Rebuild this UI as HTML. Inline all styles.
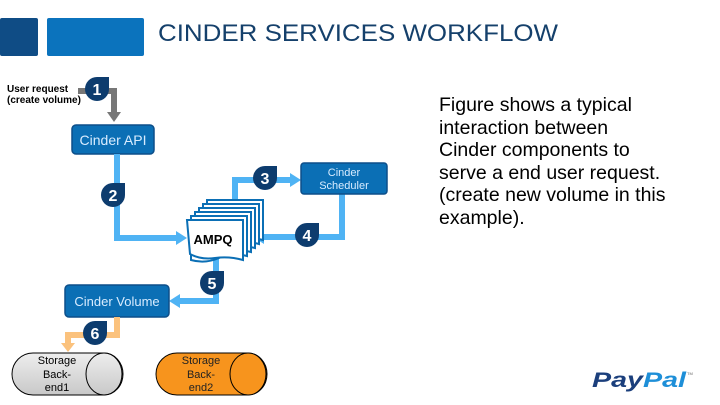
<!DOCTYPE html>
<html><head><meta charset="utf-8"><style>
html,body{margin:0;padding:0;background:#fff;width:720px;height:405px;overflow:hidden}
svg{display:block;font-family:"Liberation Sans",Arial,sans-serif}
</style></head><body>
<svg width="720" height="405" viewBox="0 0 720 405" xmlns="http://www.w3.org/2000/svg">
<defs>
<g id="b"><path d="M0,-12 L12,-12 L12,0 A12,12 0 1 1 0,-12 Z" fill="#0d3c6e"/></g>
</defs>
<rect x="0" y="18" width="38" height="38" rx="2" fill="#0f4c85"/>
<rect x="47" y="18" width="97" height="38" rx="2" fill="#0b73bd"/>
<text x="158" y="41" font-size="24" fill="#15406b" textLength="400" lengthAdjust="spacingAndGlyphs">CINDER SERVICES WORKFLOW</text>

<text x="7" y="92" font-size="10" font-weight="bold" fill="#000">User request</text>
<text x="7" y="103" font-size="10" font-weight="bold" fill="#000">(create volume)</text>
<path d="M78,91 H114 V113" fill="none" stroke="#777" stroke-width="6"/>
<path d="M107,112 H121 L114,122 Z" fill="#777"/>
<use href="#b" x="97" y="89"/><text x="97" y="95" font-size="16" font-weight="bold" fill="#fff" text-anchor="middle">1</text>

<rect x="72" y="125" width="82" height="29" rx="4" fill="#0b6fb5" stroke="#0d4f8a" stroke-width="1.5"/>
<text x="113" y="145" font-size="14" fill="#d8ecff" text-anchor="middle">Cinder API</text>

<g fill="none" stroke="#4fb3f4" stroke-width="6">
<path d="M117,154 V238 H178"/>
<path d="M235,202 V180 H292"/>
<path d="M342,194 V237 H262"/>
<path d="M216,258 V301 H177"/>
</g>
<g fill="#4fb3f4">
<path d="M176,231 L187,238 L176,245 Z"/>
<path d="M290,173 L301,180 L290,187 Z"/>
<path d="M264,230 L253,237 L264,244 Z"/>
<path d="M180,294 L169,301 L180,308 Z"/>
</g>
<use href="#b" x="113" y="195"/><text x="113" y="201" font-size="16" font-weight="bold" fill="#fff" text-anchor="middle">2</text>
<use href="#b" x="265" y="178"/><text x="265" y="184" font-size="16" font-weight="bold" fill="#fff" text-anchor="middle">3</text>
<use href="#b" x="307" y="235"/><text x="307" y="241" font-size="16" font-weight="bold" fill="#fff" text-anchor="middle">4</text>
<use href="#b" x="212" y="283"/><text x="212" y="289" font-size="16" font-weight="bold" fill="#fff" text-anchor="middle">5</text>

<rect x="301" y="163" width="86" height="31" rx="3" fill="#0b6fb5" stroke="#0d4f8a" stroke-width="1.5"/>
<text x="344" y="176" font-size="11" fill="#d8ecff" text-anchor="middle">Cinder</text>
<text x="344" y="189" font-size="11" fill="#d8ecff" text-anchor="middle">Scheduler</text>

<g fill="#fff" stroke="#0b6fb5" stroke-width="2">
<path d="M207,200 H263 V240 Q249,236 235,242 Q221,248 207,244 Z"/>
<path d="M203,204 H259 V244 Q245,240 231,246 Q217,252 203,248 Z"/>
<path d="M199,208 H255 V248 Q241,244 227,250 Q213,256 199,252 Z"/>
<path d="M195,212 H251 V252 Q237,248 223,254 Q209,260 195,256 Z"/>
<path d="M191,216 H247 V256 Q233,252 219,258 Q205,264 191,260 Z"/>
<path d="M187,220 H243 V260 Q229,256 215,258 Q201,260 190,254 Z"/>
</g>
<text x="213" y="244" font-size="13" font-weight="bold" fill="#000" text-anchor="middle">AMPQ</text>

<rect x="65" y="285" width="104" height="32" rx="4" fill="#0b6fb5" stroke="#0d4f8a" stroke-width="1.5"/>
<text x="117" y="306" font-size="13" fill="#d8ecff" text-anchor="middle">Cinder Volume</text>

<path d="M117,317 V335 H68 V345" fill="none" stroke="#fbc27d" stroke-width="6"/>
<path d="M61,343 H75 L68,352 Z" fill="#fbc27d"/>
<use href="#b" x="95" y="333"/><text x="95" y="339" font-size="16" font-weight="bold" fill="#fff" text-anchor="middle">6</text>

<defs><linearGradient id="g" x1="0" y1="0" x2="0" y2="1"><stop offset="0" stop-color="#eee"/><stop offset="1" stop-color="#c8c8c8"/></linearGradient></defs>
<path d="M33,353 H104 A19,21 0 0 1 104,395 H33 A21,21 0 0 1 33,353 Z" fill="url(#g)" stroke="#000"/>
<ellipse cx="104" cy="374" rx="18" ry="21" fill="url(#g)" stroke="#000"/>
<text x="57" y="364" font-size="11" fill="#000" text-anchor="middle">Storage</text>
<text x="57" y="378" font-size="11" fill="#000" text-anchor="middle">Back-</text>
<text x="57" y="391" font-size="11" fill="#000" text-anchor="middle">end1</text>

<path d="M177,353 H248 A19,21 0 0 1 248,395 H177 A21,21 0 0 1 177,353 Z" fill="#f7941d" stroke="#000"/>
<ellipse cx="248" cy="374" rx="18" ry="21" fill="#f7941d" stroke="#000"/>
<text x="201" y="364" font-size="11" fill="#222" text-anchor="middle">Storage</text>
<text x="201" y="378" font-size="11" fill="#222" text-anchor="middle">Back-</text>
<text x="201" y="391" font-size="11" fill="#222" text-anchor="middle">end2</text>

<g font-size="19.5" fill="#000">
<text x="439" y="111">Figure shows a typical</text>
<text x="439" y="134">interaction between</text>
<text x="439" y="156">Cinder components to</text>
<text x="439" y="179">serve a end user request.</text>
<text x="439" y="201">(create new volume in this</text>
<text x="439" y="224">example).</text>
</g>

<text x="592" y="387" font-size="21" font-weight="bold" font-style="italic" fill="#1b3f7c" textLength="94" lengthAdjust="spacingAndGlyphs">Pay<tspan fill="#1e8fd8">Pal</tspan></text>
<text x="687" y="375" font-size="4" fill="#666">TM</text>
</svg>
</body></html>
